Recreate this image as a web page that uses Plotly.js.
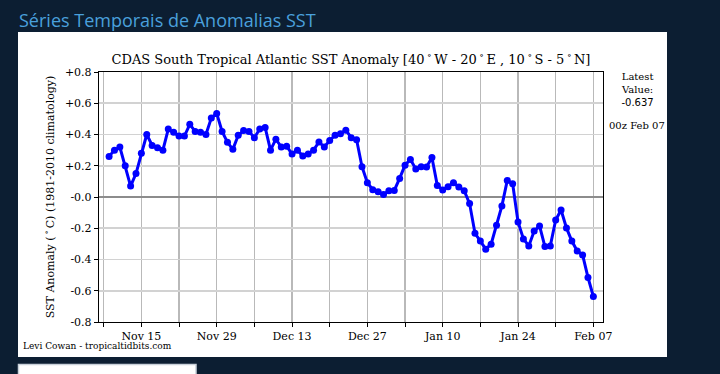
<!DOCTYPE html>
<html>
<head>
<meta charset="utf-8">
<script src="https://cdn.plot.ly/plotly-3.0.1.min.js"></script>
<style>
  html, body { margin: 0; padding: 0; background: #0c1e32; }
  #chart { width: 720px; height: 374px; }
</style>
</head>
<body>
<div id="chart"></div>
<script>
// ---- data ----
const firstDate = '2024-11-09';   // first daily value, last one is 00z Feb 07
const anomaly = [
  0.26, 0.30, 0.32, 0.20, 0.07, 0.15, 0.28, 0.40, 0.33, 0.315,
  0.30, 0.435, 0.415, 0.39, 0.39, 0.465, 0.42, 0.415, 0.40, 0.505,
  0.535, 0.42, 0.35, 0.305, 0.395, 0.425, 0.42, 0.38, 0.435, 0.445,
  0.30, 0.37, 0.32, 0.325, 0.275, 0.30, 0.262, 0.275, 0.30, 0.352,
  0.32, 0.362, 0.395, 0.405, 0.428, 0.38, 0.366, 0.194, 0.091, 0.047,
  0.034, 0.016, 0.04, 0.042, 0.119, 0.204, 0.24, 0.18, 0.194, 0.192,
  0.253, 0.074, 0.045, 0.066, 0.091, 0.064, 0.04, -0.042, -0.232, -0.282,
  -0.334, -0.302, -0.181, -0.057, 0.106, 0.085, -0.16, -0.268, -0.313, -0.218,
  -0.185, -0.317, -0.313, -0.147, -0.083, -0.198, -0.282, -0.345, -0.371, -0.515,
  -0.637
];
const yTickValues = [0.8, 0.6, 0.4, 0.2, 0.0, -0.2, -0.4, -0.6, -0.8];
const yTickLabels = ['+0.8', '+0.6', '+0.4', '+0.2', '-0.0', '-0.2', '-0.4', '-0.6', '-0.8'];
const latestValueText = '-0.637';
const latestTimeText = '00z Feb 07';

// daily dates
const dates = [];
{
  const d0 = new Date(firstDate + 'T00:00:00Z');
  for (let i = 0; i < anomaly.length; i++) {
    const d = new Date(d0.getTime() + i * 86400000);
    dates.push(d.toISOString().slice(0, 10));
  }
}

// ---- layout helpers (pixel -> paper) ----
const L = 99, R = 603, T = 72, B = 322;
const px = X => (X - L) / (R - L);
const py = Y => (B - Y) / (B - T);
const serif = 'DejaVu Serif, serif';
const DAY = 86400000;

const trace = {
  x: dates, y: anomaly,
  type: 'scatter', mode: 'lines+markers',
  line: { color: '#0000ff', width: 3 },
  marker: { color: '#0000ff', size: 7 },
  hoverinfo: 'skip'
};

const layout = {
  width: 720, height: 374,
  margin: { l: L, r: 720 - R, t: T, b: 374 - B, pad: 0 },
  paper_bgcolor: '#0c1e32',
  plot_bgcolor: '#ffffff',
  showlegend: false,
  font: { family: serif, color: '#000000', size: 11 },
  title: {
    text: 'CDAS South Tropical Atlantic SST Anomaly [40\u2009<sup>\u2218</sup>\u2009W - 20\u2009<sup>\u2218</sup>\u2009E , 10\u2009<sup>\u2218</sup>\u2009S - 5\u2009<sup>\u2218</sup>\u2009N]',
    font: { family: serif, size: 13, color: '#000000' },
    xref: 'paper', x: 0.5, xanchor: 'center',
    yref: 'container', y: 1 - 59 / 374, yanchor: 'middle'
  },
  xaxis: {
    type: 'date',
    range: ['2024-11-07 03:00', '2025-02-08 19:00'],
    tick0: '2024-11-15', dtick: 14 * DAY, tickformat: '%b %d',
    ticks: 'outside', ticklen: 4, tickwidth: 1, tickcolor: '#000',
    tickfont: { family: serif, size: 11, color: '#000' },
    showgrid: true, gridcolor: '#b9b9b9', gridwidth: 1.2,
    minor: { tick0: '2024-11-15', dtick: 7 * DAY, ticks: 'outside', ticklen: 4, tickcolor: '#000',
             showgrid: true, gridcolor: '#b9b9b9', gridwidth: 1.2 },
    showline: true, linecolor: '#000', linewidth: 1.2, mirror: true,
    zeroline: false, fixedrange: true
  },
  yaxis: {
    range: [-0.8, 0.8],
    tickvals: yTickValues, ticktext: yTickLabels,
    ticks: 'outside', ticklen: 4, tickwidth: 1, tickcolor: '#000',
    tickfont: { family: serif, size: 11, color: '#000' },
    showgrid: true, gridcolor: '#d2d2d2', gridwidth: 1.8,
    zeroline: true, zerolinecolor: '#8c8c8c', zerolinewidth: 2,
    showline: true, linecolor: '#000', linewidth: 1.2, mirror: true,
    title: { text: 'SST Anomaly (\u2009<sup>\u2218</sup>\u2009C) (1981-2010 climatology)',
             font: { family: serif, size: 11, color: '#000' }, standoff: 8 },
    fixedrange: true
  },
  shapes: [
    { type: 'rect', xref: 'paper', yref: 'paper', layer: 'below',
      x0: px(18), x1: px(667), y0: py(357), y1: py(32),
      fillcolor: '#ffffff', line: { width: 0 } },
    { type: 'rect', xref: 'paper', yref: 'paper', layer: 'below',
      x0: px(18.5), x1: px(196), y0: py(380), y1: py(364.5),
      fillcolor: '#ffffff', line: { color: '#c9d1da', width: 1.5 } }
  ],
  annotations: [
    { text: 'Séries Temporais de Anomalias SST', xref: 'paper', yref: 'paper',
      x: px(17), y: py(19.5), xanchor: 'left', yanchor: 'middle', showarrow: false,
      font: { family: 'Open Sans, Noto Sans, sans-serif', size: 18, color: '#4aa0dc' } },
    { text: 'Latest<br>Value:<br><span style="font-family:DejaVu Sans">' + latestValueText + '</span>',
      xref: 'paper', yref: 'paper', x: px(637), y: py(69), xanchor: 'center', yanchor: 'top',
      showarrow: false, align: 'center', font: { family: serif, size: 10, color: '#000' } },
    { text: latestTimeText, xref: 'paper', yref: 'paper', x: px(637), y: py(125),
      xanchor: 'center', yanchor: 'middle', showarrow: false,
      font: { family: serif, size: 10, color: '#000' } },
    { text: 'Levi Cowan - tropicaltidbits.com', xref: 'paper', yref: 'paper',
      x: px(21), y: py(346), xanchor: 'left', yanchor: 'middle', showarrow: false,
      font: { family: serif, size: 9, color: '#000' } }
  ]
};

Plotly.newPlot('chart', [trace], layout, { staticPlot: true, displayModeBar: false });
</script>
</body>
</html>
